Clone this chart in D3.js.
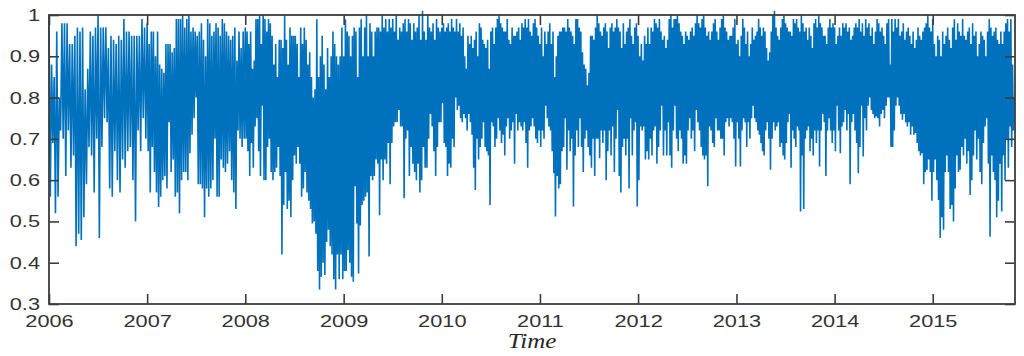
<!DOCTYPE html>
<html>
<head>
<meta charset="utf-8">
<script src="https://cdn.jsdelivr.net/npm/d3@7"></script>
<style>
  body { margin: 0; background: #fff; }
  svg { display: block; }
</style>
</head>
<body>
<div id="chart"></div>
<script>
// values, high/low swings in time order, one array per year
var y2006 = [1.0,0.56,0.88,0.69,0.85,0.52,0.96,0.56,0.8,0.72,0.98,0.7,0.98,0.61,0.98,0.72,0.93,0.63,0.93,0.66,0.95,0.44,0.97,0.47,0.96,0.455,0.97,0.51,0.82,0.59,0.87,0.68,0.96,0.66,0.95,0.57,0.97,0.7,1.0,0.46,0.97,0.68,0.97,0.75,0.97,0.74,0.92,0.58,0.95,0.56,0.94,0.67,0.93,0.6,0.95,0.57,0.94,0.65,0.99,0.63,0.96,0.67,0.96,0.68,0.95,0.6,0.95,0.5,0.95,0.72,0.95,0.67,0.99,0.75,0.97,0.7];
var y2007 = [0.98,0.67,0.93,0.57,0.96,0.68,0.96,0.62,0.9,0.57,0.96,0.535,0.88,0.56,0.87,0.6,0.86,0.61,0.93,0.58,0.93,0.74,0.93,0.62,0.91,0.65,0.92,0.56,0.99,0.57,0.99,0.52,0.99,0.6,1.0,0.62,0.97,0.62,0.99,0.6,1.0,0.665,0.96,0.71,0.97,0.75,0.96,0.8,0.95,0.59,0.96,0.59,0.98,0.58,0.94,0.51,0.9,0.58,0.99,0.56,0.98,0.58,0.95,0.6,0.96,0.7,0.98,0.56,0.97,0.56,0.95,0.65,0.99,0.63,0.98,0.62,0.96,0.64,0.95,0.67,0.94,0.6,0.95,0.57,0.97,0.53,0.89,0.72,0.96,0.7,0.92,0.68,0.96,0.7];
var y2008 = [0.97,0.7,0.96,0.67,0.93,0.61,0.96,0.69,0.87,0.63,0.89,0.73,0.99,0.75,0.99,0.67,1.0,0.61,0.93,0.78,1.0,0.6,0.99,0.6,0.96,0.68,0.99,0.7,0.98,0.62,0.95,0.6,0.88,0.62,0.93,0.63,0.85,0.68,0.94,0.61,0.94,0.42,0.92,0.54,1.0,0.62,0.94,0.53,0.88,0.55,0.97,0.51,0.95,0.6,0.95,0.66,0.95,0.64,0.93,0.68,0.85,0.64,0.97,0.56,0.93,0.58,0.97,0.62,0.94,0.57,0.88,0.55,0.91,0.53,0.85,0.495,0.8,0.5,0.82,0.47,0.99,0.38,0.85,0.335,0.9,0.366,0.95,0.4,0.88,0.37,0.82,0.45,0.92,0.48,0.85,0.44,0.9,0.42,0.96,0.36,0.93,0.335,0.9,0.42,0.88,0.36,0.9,0.42,0.97,0.36];
var y2009 = [0.9,0.38,0.99,0.38,0.96,0.43,0.95,0.4,0.9,0.366,0.95,0.354,0.97,0.585,0.96,0.495,0.85,0.374,0.97,0.49,0.99,0.54,0.9,0.55,0.97,0.56,1.0,0.57,0.9,0.415,0.98,0.61,0.96,0.6,0.9,0.61,0.96,0.65,0.97,0.64,0.97,0.515,0.96,0.65,1.0,0.6,0.97,0.65,0.99,0.64,0.96,0.69,0.99,0.59,0.97,0.69,0.99,0.73,0.96,0.74,1.0,0.74,0.94,0.77,0.97,0.73,0.96,0.73,0.98,0.556,0.99,0.7,0.96,0.72,0.99,0.61,0.98,0.68,0.94,0.64,0.98,0.62,0.96,0.6,0.97,0.64,1.0,0.57,0.94,0.6,1.01,0.68,0.96,0.63,0.94,0.63,1.0,0.7,0.97,0.76,0.96,0.73,0.98,0.67,0.94,0.61,0.99,0.68,0.97,0.74,0.96,0.74];
var y2010 = [0.97,0.786,0.98,0.69,0.96,0.68,0.97,0.61,0.98,0.64,0.96,0.63,0.99,0.7,0.97,0.68,0.96,0.8,0.99,0.77,0.96,0.78,0.98,0.75,0.95,0.74,0.97,0.76,0.9,0.75,0.87,0.72,0.95,0.76,0.93,0.74,0.95,0.71,0.92,0.63,0.94,0.576,0.96,0.7,0.9,0.65,0.98,0.68,0.97,0.7,0.94,0.74,0.93,0.68,0.92,0.67,0.94,0.66,0.87,0.54,0.96,0.74,0.97,0.73,0.93,0.68,0.97,0.7,0.99,0.75,1.0,0.72,0.98,0.69,0.97,0.71,0.96,0.66,0.96,0.73,0.99,0.75,0.94,0.7,0.93,0.72,0.97,0.74,0.95,0.64,0.95,0.76,0.96,0.72,0.97,0.74,0.94,0.73,0.98,0.72,0.97,0.74,0.99,0.69,0.97,0.63,0.99,0.72,0.96,0.73,0.95,0.75,0.98,0.73,0.99,0.7,0.97,0.69,0.95,0.72];
var y2011 = [0.93,0.68,0.97,0.72,0.9,0.7,0.96,0.78,0.93,0.75,0.96,0.73,0.98,0.72,0.93,0.67,0.96,0.617,0.85,0.512,0.9,0.61,0.95,0.58,0.96,0.59,0.96,0.67,0.97,0.68,0.97,0.75,0.96,0.625,0.99,0.72,0.97,0.67,0.96,0.7,0.95,0.536,0.93,0.66,0.99,0.72,0.99,0.68,0.97,0.75,0.96,0.68,0.91,0.62,0.88,0.7,0.87,0.72,0.83,0.68,0.86,0.66,0.95,0.63,0.95,0.7,0.94,0.61,0.97,0.7,1.0,0.7,0.98,0.653,0.96,0.72,0.95,0.69,0.97,0.72,0.98,0.6,0.96,0.67,0.92,0.72,0.97,0.66,0.98,0.73,0.96,0.62,0.97,0.7,0.99,0.77,0.97,0.61,0.96,0.57,0.92,0.68,0.98,0.7,0.93,0.66,0.96,0.7,0.97,0.58,0.99,0.75,0.95,0.66,0.93,0.72,0.97,0.74,0.98,0.536];
var y2012 = [0.95,0.6,0.9,0.73,0.93,0.72,0.89,0.73,0.95,0.65,0.93,0.67,0.97,0.65,0.93,0.7,0.97,0.66,0.96,0.72,0.99,0.73,0.98,0.64,0.97,0.68,0.99,0.72,0.96,0.78,0.94,0.66,0.95,0.72,0.92,0.66,0.94,0.74,0.99,0.66,1.0,0.63,0.97,0.72,0.99,0.78,0.99,0.7,1.0,0.67,0.98,0.72,0.96,0.7,0.95,0.64,0.93,0.66,0.96,0.64,0.95,0.72,0.94,0.75,0.96,0.7,0.97,0.72,0.95,0.67,0.98,0.77,1.0,0.74,0.98,0.72,0.97,0.68,0.99,0.66,1.0,0.65,0.97,0.66,0.95,0.585,0.96,0.73,0.94,0.72,0.96,0.69,0.98,0.68,0.99,0.75,0.96,0.72,0.94,0.72,0.97,0.7,0.99,0.7,1.0,0.66,0.97,0.74,0.96,0.75,0.94,0.73,0.95,0.75,0.95,0.74,0.97,0.7,0.99,0.633];
var y2013 = [0.93,0.74,0.94,0.7,0.9,0.633,0.95,0.72,0.99,0.75,0.97,0.74,0.93,0.68,0.96,0.74,0.9,0.7,0.93,0.75,0.97,0.78,0.94,0.75,0.95,0.74,0.96,0.72,0.99,0.71,0.97,0.69,0.95,0.67,0.97,0.66,0.96,0.72,0.92,0.74,0.89,0.7,0.91,0.625,0.96,0.7,1.0,0.74,1.01,0.72,0.97,0.73,0.95,0.74,0.94,0.68,0.97,0.69,0.99,0.66,1.0,0.65,0.98,0.69,0.97,0.74,0.96,0.76,0.96,0.63,0.95,0.72,0.99,0.7,0.98,0.68,0.99,0.73,0.97,0.72,0.96,0.524,1.0,0.66,0.98,0.53,0.96,0.7,0.97,0.72,0.94,0.73,0.97,0.67,0.95,0.7,0.92,0.66,0.98,0.72,0.99,0.69,0.97,0.72,1.0,0.633,0.98,0.72,0.97,0.76,0.95,0.74,0.95,0.61,0.93,0.72,0.97,0.75,0.99,0.72,0.97,0.69,0.98,0.72];
var y2014 = [0.97,0.67,0.93,0.78,0.95,0.72,0.97,0.665,0.95,0.73,0.98,0.74,0.97,0.77,0.98,0.72,0.96,0.76,0.97,0.59,0.94,0.74,0.95,0.76,0.97,0.72,0.98,0.69,0.97,0.617,0.99,0.68,0.96,0.78,0.98,0.657,0.95,0.75,0.99,0.72,0.97,0.78,0.98,0.8,0.95,0.77,0.97,0.76,0.93,0.75,0.96,0.754,0.99,0.75,0.98,0.73,0.96,0.76,0.97,0.77,0.95,0.75,0.93,0.78,0.98,0.8,0.99,0.8,0.88,0.68,0.99,0.68,0.96,0.72,0.99,0.78,0.97,0.8,0.99,0.78,0.95,0.76,0.96,0.746,0.98,0.76,0.94,0.74,0.96,0.73,0.97,0.74,0.95,0.71,0.93,0.73,0.96,0.71,0.92,0.714,0.94,0.69,0.97,0.67,0.95,0.66,0.94,0.665,0.96,0.59,0.97,0.62,0.98,0.625,1.0,0.65,0.97,0.62,0.96,0.55];
var y2015 = [0.99,0.62,0.93,0.65,0.9,0.6,0.95,0.552,0.94,0.46,0.9,0.51,0.96,0.48,0.93,0.62,0.95,0.66,0.97,0.62,0.94,0.53,0.92,0.54,0.97,0.5,0.99,0.58,0.94,0.66,0.98,0.62,0.96,0.625,0.95,0.68,0.99,0.66,0.95,0.7,0.94,0.64,0.96,0.67,0.97,0.564,0.93,0.6,0.98,0.66,0.95,0.72,0.96,0.65,0.9,0.7,0.93,0.62,0.96,0.59,0.95,0.69,0.94,0.73,0.9,0.75,0.96,0.64,0.99,0.463,0.97,0.66,0.95,0.62,0.96,0.6,0.97,0.51,0.94,0.55,0.93,0.64,0.96,0.524,0.93,0.66,0.96,0.6,0.98,0.7,0.99,0.63,0.96,0.73,0.99,0.68,0.88,0.72,0.8];

var years = [2006, 2007, 2008, 2009, 2010, 2011, 2012, 2013, 2014, 2015];
var yearValues = [y2006, y2007, y2008, y2009, y2010, y2011, y2012, y2013, y2014, y2015];
var yTicks = [0.3, 0.4, 0.5, 0.6, 0.7, 0.8, 0.9, 1];
var lastDay = new Date(2015, 10, 3);
var xLabel = "Time";

var W = 1024, H = 356;
var margin = {top: 15, right: 9, bottom: 52, left: 49},
    width = W - margin.left - margin.right,
    height = H - margin.top - margin.bottom;

var stretch = 1.28;   // the picture is wider than it is tall, text too
var axisColor = "#3c3c3c";

// spread each year's values evenly over that year
var series = [];
years.forEach(function(yr, k) {
    var vals = yearValues[k];
    var t0 = new Date(yr, 0, 1);
    var t1 = yr === 2015 ? lastDay : new Date(yr + 1, 0, 1);
    vals.forEach(function(v, i) {
        series.push({date: new Date(+t0 + (t1 - t0) * i / vals.length), value: v});
    });
});

var x = d3.scaleTime()
    .domain([new Date(2006, 0, 1), lastDay])
    .range([0, width]);

var y = d3.scaleLinear()
    .domain([0.3, 1])
    .range([height, 0]);

var svg = d3.select("#chart").append("svg")
    .attr("width", W)
    .attr("height", H)
  .append("g")
    .attr("transform", "translate(" + margin.left + "," + margin.top + ")");

var line = d3.line()
    .x(function(d) { return x(d.date); })
    .y(function(d) { return y(d.value); });

svg.append("path")
    .datum(series)
    .attr("fill", "none")
    .attr("stroke", "#0072BD")
    .attr("stroke-width", 1.6)
    .attr("stroke-linejoin", "bevel")
    .attr("d", line);

var xTickVals = years.map(function(yr) { return new Date(yr, 0, 1); });

function styleAxis(g) {
    g.select(".domain").remove();
    g.selectAll(".tick line").attr("stroke", axisColor).attr("stroke-width", 1.6);
    g.selectAll("text")
        .attr("fill", "#333")
        .style("font-family", "'Liberation Sans', Arial, sans-serif")
        .style("font-size", "17px");
}

// bottom axis, ticks pointing in
var xAxisG = svg.append("g")
    .attr("transform", "translate(0," + height + ")")
    .call(d3.axisBottom(x).tickValues(xTickVals).tickFormat(d3.timeFormat("%Y"))
        .tickSizeInner(-10).tickSizeOuter(0).tickPadding(11))
    .call(styleAxis);
xAxisG.selectAll("text").attr("transform", "scale(" + stretch + ",1)");

// top mirror ticks
svg.append("g")
    .call(d3.axisTop(x).tickValues(xTickVals).tickFormat("")
        .tickSizeInner(-10).tickSizeOuter(0))
    .call(styleAxis);

// left axis
var yAxisG = svg.append("g")
    .call(d3.axisLeft(y).tickValues(yTicks).tickFormat(d3.format("~g"))
        .tickSizeInner(-10).tickSizeOuter(0).tickPadding(9))
    .call(styleAxis);
yAxisG.selectAll("text")
    .attr("x", -9 / stretch)
    .attr("transform", "scale(" + stretch + ",1)");

// right mirror ticks
svg.append("g")
    .attr("transform", "translate(" + width + ",0)")
    .call(d3.axisRight(y).tickValues(yTicks).tickFormat("")
        .tickSizeInner(-10).tickSizeOuter(0))
    .call(styleAxis);

// box
svg.append("rect")
    .attr("width", width)
    .attr("height", height)
    .attr("fill", "none")
    .attr("stroke", axisColor)
    .attr("stroke-width", 1.8);

svg.append("text")
    .attr("transform", "translate(" + (width / 2) + "," + (height + 44) + ") scale(1.25,1)")
    .attr("text-anchor", "middle")
    .style("font-family", "'Liberation Serif', 'Times New Roman', serif")
    .style("font-style", "italic")
    .style("font-size", "20px")
    .attr("fill", "#262626")
    .text(xLabel);
</script>
</body>
</html>
